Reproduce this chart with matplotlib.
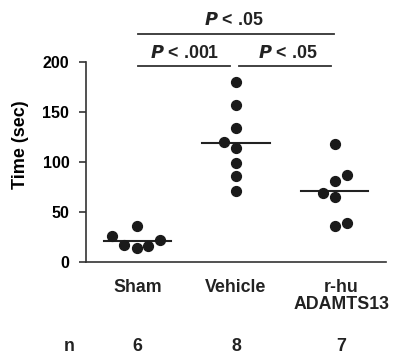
import matplotlib
matplotlib.use('Agg')
from matplotlib import pyplot as plt

plt.rcParams['font.family'] = ['Liberation Sans', 'DejaVu Sans']
plt.rcParams['font.weight'] = 'bold'

groups = ['Sham', 'Vehicle', 'r-hu\nADAMTS13']
n_counts = ['6', '8', '7']
sham = [26, 17, 36, 14, 16, 22]
vehicle = [180, 157, 134, 120, 114, 99, 86, 71]
rhu = [118, 87, 81, 69, 65, 36, 39]
medians = [21, 119, 71]
yticks = [0, 50, 100, 150, 200]

# horizontal spread of the dots so they don't overlap
jitter = [
    [-0.26, -0.14, 0, 0, 0.11, 0.23],
    [0, 0, 0, -0.12, 0, 0, 0, 0],
    [0, 0.12, 0, -0.12, 0, 0, 0.12],
]

W, H = 394, 354
fig = plt.figure(figsize=(W / 100, H / 100), dpi=100)
ax = fig.add_axes([86 / W, 1 - 262 / H, (386 - 86) / W, (262 - 62.5) / H])

for i, vals in enumerate([sham, vehicle, rhu]):
    xs = [i + j for j in jitter[i]]
    ax.scatter(xs, vals, s=50, color='#1a1a1a', zorder=3, clip_on=False)
    ax.plot([i - 0.34, i + 0.34], [medians[i]] * 2, color='#222222', lw=1.5, zorder=2)

ax.set_xlim(-0.52, 2.52)
ax.set_ylim(0, 200)
ax.set_yticks(yticks)
ax.set_xticks([])
ax.spines['top'].set_visible(False)
ax.spines['right'].set_visible(False)
ax.spines['left'].set_color('#333333')
ax.spines['bottom'].set_color('#333333')
ax.spines['left'].set_linewidth(1.2)
ax.spines['bottom'].set_linewidth(1.2)
ax.tick_params(axis='y', length=5, width=1.2, color='#333333', labelsize=11.5, pad=7)
ax.set_ylabel('Time (sec)', fontsize=13, fontweight='bold')
ax.yaxis.set_label_coords(-0.19, 0.59)

# group labels and n row
for i, g in enumerate(groups):
    ax.text(i + (0.07 if i == 2 else 0), -17, g, ha='center', va='top', fontsize=12.8,
            fontweight='bold', linespacing=1.0, color='#222222')
    ax.text(i + (0.07 if i == 2 else 0), -85, n_counts[i], ha='center', va='center',
            fontsize=12.8, fontweight='bold', color='#222222')
ax.text(-0.69, -85, 'n', ha='center', va='center', fontsize=12.8, fontweight='bold', color='#222222')

# significance brackets
bracket_kw = dict(color='#333333', lw=1.3, clip_on=False)
ax.plot([0.01, 1.99], [229, 229], **bracket_kw)
ax.plot([0.01, 0.94], [196, 196], **bracket_kw)
ax.plot([1.03, 1.96], [196, 196], **bracket_kw)
ax.text(0.98, 242, r'$\bfit{P}$ < .05', ha='center', va='center', fontsize=12.8, color='#222222')
ax.text(0.48, 209, r'$\bfit{P}$ < .001', ha='center', va='center', fontsize=12.8, color='#222222')
ax.text(1.52, 209, r'$\bfit{P}$ < .05', ha='center', va='center', fontsize=12.8, color='#222222')

fig.savefig('out.png', dpi=100)
